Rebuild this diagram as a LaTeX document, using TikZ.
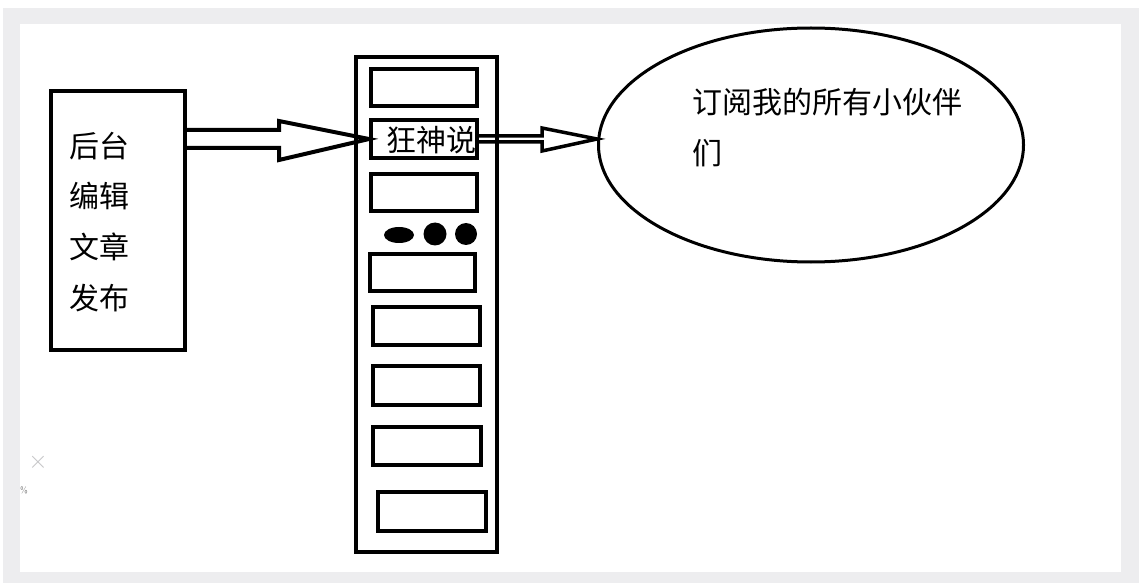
\documentclass[tikz,border=0pt]{standalone}
\usepackage{fontspec}
\newfontfamily\cjk{Noto Sans CJK SC}
\usetikzlibrary{shapes.geometric,calc}
\definecolor{framegray}{HTML}{EDEDEF}
\definecolor{markgray}{HTML}{C4C4C6}
\begin{document}
\begin{tikzpicture}[x=1pt,y=-1pt,
  box/.style={draw, line width=4pt, inner sep=0pt, rectangle},
  slot/.style={box, minimum width=106pt, minimum height=37pt},
  cjktext/.style={font=\cjk\fontsize{30}{32}\selectfont, inner sep=0pt},
  hollow/.style={draw, line width=4pt, line join=miter}]
\useasboundingbox (0,0) rectangle (1146,588);
\fill[white] (0,0) rectangle (1146,588);
\fill[framegray] (3,8) rectangle (1139,583);
\fill[white] (20,24) rectangle (1121,572);

% left box
\node[box, minimum width=134pt, minimum height=259pt] (left) at (118,220.5) {};
\node[cjktext, anchor=west] (l1) at (69,146) {后台};
\node[cjktext, anchor=west] (l2) at (69,196) {编辑};
\node[cjktext, anchor=west] (l3) at (69,247) {文章};
\node[cjktext, anchor=west] (l4) at (69,298) {发布};

% server column
\node[box, minimum width=141pt, minimum height=495pt] (server) at (426.5,304.5) {};
\node[slot] (b1) at (424,87.5) {};
\node[slot, minimum height=38pt] (b2) at (424,139) {};
\node[cjktext] (b2t) at (431,140) {狂神说};
\node[slot] (b3) at (424,192.5) {};
\node[slot, minimum width=105pt] (b4) at (422.5,272.5) {};
\node[slot, minimum width=107pt, minimum height=38pt] (b5) at (426.5,326) {};
\node[slot, minimum width=107pt, minimum height=39pt] (b6) at (426.5,385.5) {};
\node[slot, minimum width=108pt, minimum height=38pt] (b7) at (427,446) {};
\node[slot, minimum width=108pt, minimum height=39pt] (b8) at (432,511.5) {};
\fill (399,235) ellipse [x radius=15, y radius=8];
\fill (435,234) circle [radius=11.5];
\fill (466,234) circle [radius=11];

% ellipse
\node[draw, ellipse, line width=3pt, minimum width=425pt, minimum height=234pt, inner sep=0pt] (sub) at (811,145) {};
\node[cjktext, anchor=west] (s1) at (692,102) {订阅我的所有小伙伴};
\node[cjktext, anchor=west] (s2) at (692,153) {们};

% arrows
\coordinate (a1) at (left.east |- b2.west);
\draw[hollow] ($(a1)+(0,-9)$) -- ++(92,0) -- ++(0,-9) -- (b2.west)
  -- ($(a1)+(92,21)$) -- ++(0,-12) -- ($(a1)+(0,9)$);
\coordinate (a2) at (b2.east);
\coordinate (a2t) at (sub.west |- b2.east);
\draw[hollow, line width=3.5pt] ($(a2)+(0,-3)$) -- ($(a2)+(63,-3)$) -- ($(a2)+(63,-11)$) -- (a2t)
  -- ($(a2)+(63,12)$) -- ($(a2)+(63,3)$) -- ($(a2)+(0,3)$);

% faint marks
\node[text=markgray, font=\fontsize{24}{24}\selectfont, inner sep=0pt] (mx) at (38,462) {$\times$};
\node[text=gray, font=\sffamily\fontsize{9}{9}\selectfont, inner sep=0pt] (mp) at (24,490) {\%};
\end{tikzpicture}
\end{document}
